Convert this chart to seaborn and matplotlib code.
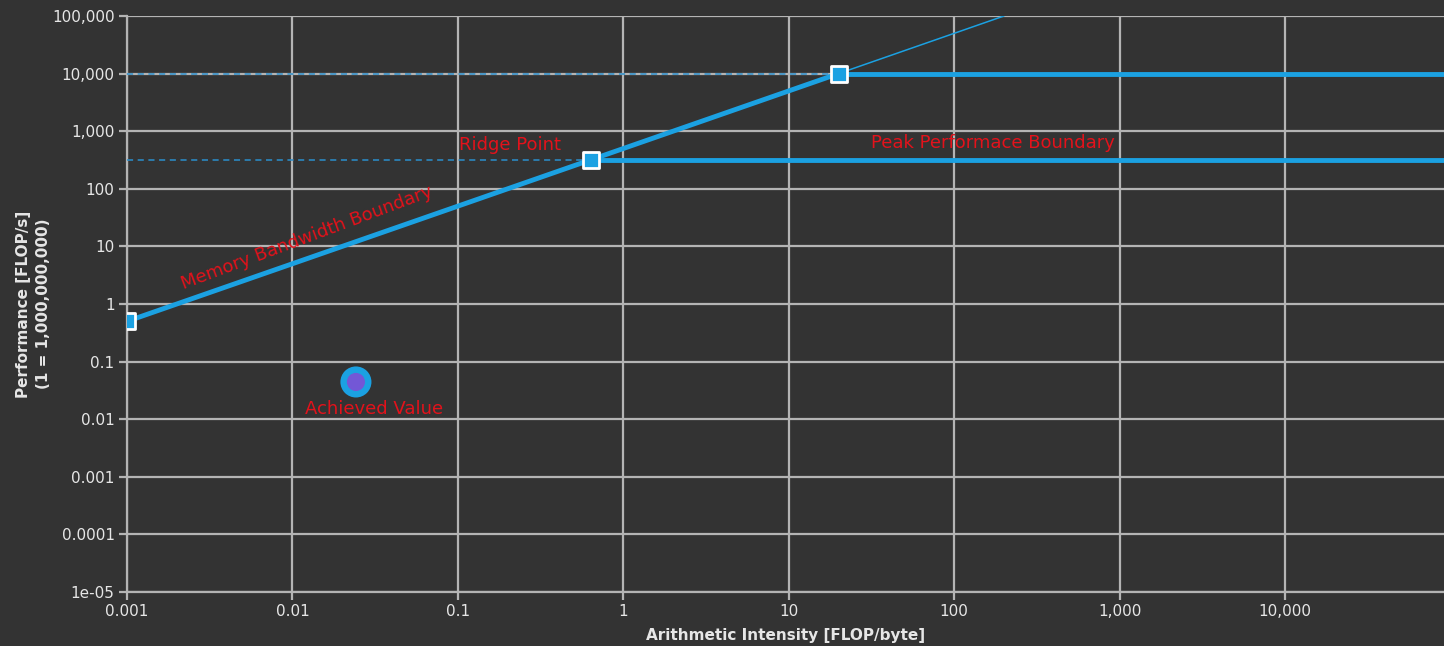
import numpy as np
import pandas as pd
import matplotlib
matplotlib.use("Agg")
import matplotlib.pyplot as plt
from matplotlib.ticker import FixedLocator, FixedFormatter, NullLocator
import seaborn as sns

# Roofline model parameters
bandwidth = 500.0            # GFLOP/s per FLOP/byte slope (memory bound)
peak_levels = [320.0, 10000.0]   # compute ceilings [GFLOP/s]
x_min = 0.001
y_top = 100000.0

# Measured kernel
achieved_ai = [0.0242]
achieved_perf = [0.0443]

# Tick values and labels
x_ticks = [0.001, 0.01, 0.1, 1, 10, 100, 1000, 10000]
x_tick_labels = ["0.001", "0.01", "0.1", "1", "10", "100", "1,000", "10,000"]
y_ticks = [1e-05, 0.0001, 0.001, 0.01, 0.1, 1, 10, 100, 1000, 10000, 100000]
y_tick_labels = ["1e-05", "0.0001", "0.001", "0.01", "0.1", "1", "10", "100",
                 "1,000", "10,000", "100,000"]

BG = "#333333"
BLUE = "#1ba1e2"
DASH = "#2b8fcc"
PURPLE = "#7357d6"
RED = "#e3121b"
GRID = "#b4b4b4"
TXT = "#e6e6e6"

sns.set_theme(style="dark")
W, H = 1444, 646
fig = plt.figure(figsize=(W / 100, H / 100), dpi=100, facecolor=BG)
left_px, top_px, bottom_px = 127, 16, 592
ax = fig.add_axes([left_px / W, (H - bottom_px) / H, (W - left_px) / W, (bottom_px - top_px) / H])
ax.set_facecolor(BG)
ax.set_xscale("log")
ax.set_yscale("log")
decade_px = (1285 - 127) / 7.0
x_max = 10 ** (np.log10(x_min) + (W - left_px) / decade_px)
ax.set_xlim(x_min, x_max)
ax.set_ylim(1e-05, y_top)

ridges = [p / bandwidth for p in peak_levels]

# Dashed guides from the axis to each ridge point
for p, r in zip(peak_levels, ridges):
    sns.lineplot(x=[x_min, r], y=[p, p], ax=ax, color=DASH, lw=1.1,
                 linestyle=(0, (4, 3)), sort=False, estimator=None, zorder=3)

# Memory bandwidth boundary (thick up to the highest ridge, thin beyond)
sns.lineplot(x=[x_min, ridges[-1]], y=[x_min * bandwidth, peak_levels[-1]], ax=ax,
             color=BLUE, lw=3.5, sort=False, estimator=None, zorder=4)
sns.lineplot(x=[ridges[-1], y_top / bandwidth], y=[peak_levels[-1], y_top], ax=ax,
             color=BLUE, lw=1.1, sort=False, estimator=None, zorder=4)

# Peak performance boundaries
for p, r in zip(peak_levels, ridges):
    sns.lineplot(x=[r, x_max], y=[p, p], ax=ax, color=BLUE, lw=3.5,
                 sort=False, estimator=None, zorder=4)

# Corner markers
mk = pd.DataFrame({"x": [x_min] + ridges, "y": [x_min * bandwidth] + peak_levels})
sns.scatterplot(data=mk, x="x", y="y", ax=ax, marker="s", s=120, color=BLUE,
                edgecolor="white", linewidth=2, zorder=6)

# Achieved value
sns.scatterplot(x=achieved_ai, y=achieved_perf, ax=ax, s=500, color=BLUE,
                edgecolor="none", zorder=6)
sns.scatterplot(x=achieved_ai, y=achieved_perf, ax=ax, s=170, color=PURPLE,
                edgecolor="none", zorder=7)

# Annotations
fs = 13
ax.text(0.206, 575, "Ridge Point", color=RED, fontsize=fs, ha="center", va="center", zorder=8)
ax.text(171, 624, "Peak Performace Boundary", color=RED, fontsize=fs, ha="center", va="center", zorder=8)
ax.text(0.01225, 14, "Memory Bandwidth Boundary", color=RED, fontsize=fs, ha="center",
        va="center", rotation=20.5, rotation_mode="anchor", zorder=8)
ax.text(0.031, 0.0152, "Achieved Value", color=RED, fontsize=fs, ha="center", va="center", zorder=8)

# Axes styling
ax.xaxis.set_major_locator(FixedLocator(x_ticks))
ax.xaxis.set_major_formatter(FixedFormatter(x_tick_labels))
ax.yaxis.set_major_locator(FixedLocator(y_ticks))
ax.yaxis.set_major_formatter(FixedFormatter(y_tick_labels))
ax.xaxis.set_minor_locator(NullLocator())
ax.yaxis.set_minor_locator(NullLocator())
ax.grid(True, which="major", color=GRID, lw=1.6)
ax.tick_params(axis="both", which="major", colors=GRID, labelcolor=TXT, labelsize=11,
               length=6, width=1.6, direction="out", pad=3, left=True, bottom=True)
for side in ["top", "right"]:
    ax.spines[side].set_visible(False)
for side in ["left", "bottom"]:
    ax.spines[side].set_visible(True)
    ax.spines[side].set_color(GRID)
    ax.spines[side].set_linewidth(1.6)

ax.set_xlabel("Arithmetic Intensity [FLOP/byte]", color=TXT, fontsize=11,
              fontweight="bold")
ax.set_ylabel("Performance [FLOP/s]\n(1 = 1,000,000,000)", color=TXT, fontsize=11,
              fontweight="bold", linespacing=1.35)
ax.xaxis.set_label_coords(0.5, -0.063)
ax.yaxis.set_label_coords(-0.058, 0.5)

fig.savefig("out.png", dpi=100, facecolor=BG)
